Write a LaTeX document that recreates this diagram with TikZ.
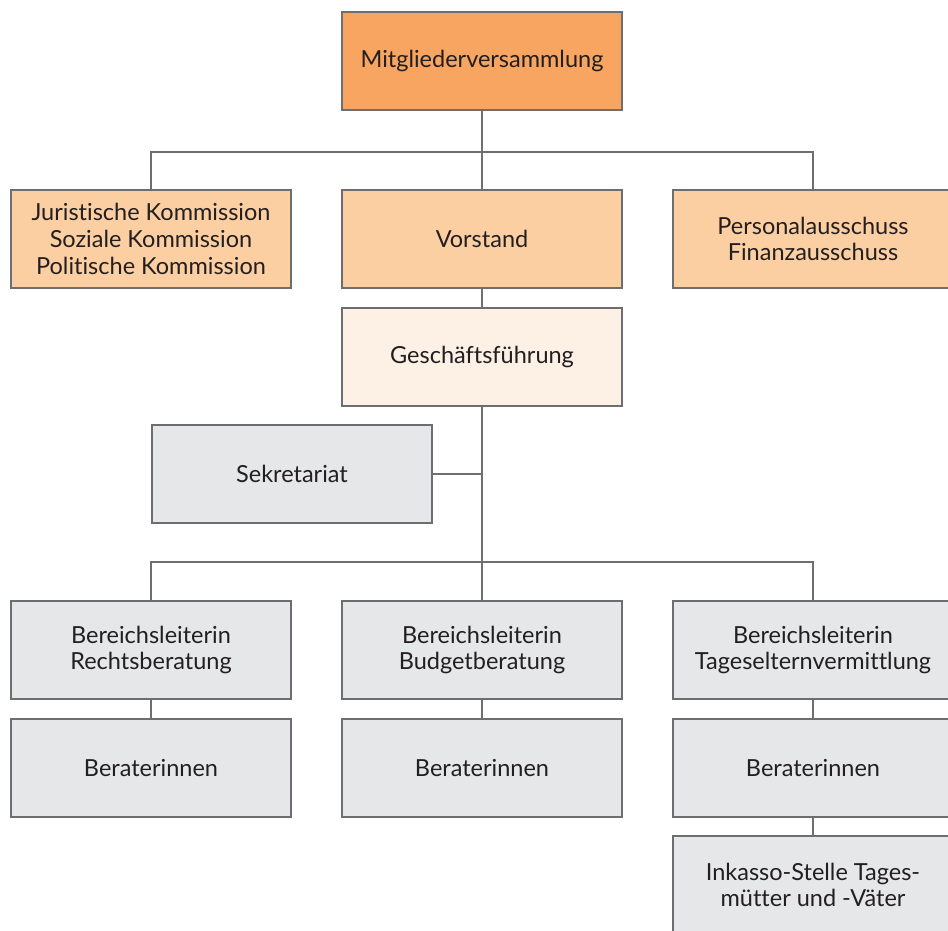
\documentclass[tikz,border=0pt]{standalone}
\usepackage{fontspec}
\setmainfont[Ligatures=NoCommon]{Lato}
\usepackage{xcolor}
\definecolor{mvcolor}{HTML}{F7A560}
\definecolor{gremcolor}{HTML}{FCCFA3}
\definecolor{gfcolor}{HTML}{FDF0E4}
\definecolor{stabcolor}{HTML}{E6E7E8}
\definecolor{linecolor}{HTML}{6D6E71}
\definecolor{textcolor}{HTML}{231F20}
\usepackage{tikz}
\usetikzlibrary{positioning, calc}

\tikzset{
  orgbox/.style={draw=linecolor, line width=1.3pt, minimum width=280pt, minimum height=98pt,
    inner sep=0pt, align=center, text=textcolor, font=\fontsize{23.5}{26.8}\selectfont},
  link/.style={draw=linecolor, line width=1.3pt}
}

\begin{document}
\begin{tikzpicture}[x=1pt, y=-1pt]
  \useasboundingbox (0,0) rectangle (948,931);
  \clip (0,0) rectangle (948,931);
  \node[orgbox, fill=mvcolor] (mv) at (482,61) {Mitgliederversammlung};
  \node[orgbox, fill=gremcolor] (komm) at (151,239) {Juristische Kommission\\Soziale Kommission\\Politische Kommission};
  \node[orgbox, fill=gremcolor] (vorstand) at (482,239) {Vorstand};
  \node[orgbox, fill=gremcolor] (aussch) at (813,239) {Personalausschuss\\Finanzausschuss};
  \node[orgbox, fill=gfcolor] (gf) at (482,357) {Geschäftsführung};
  \node[orgbox, fill=stabcolor] (sek) at (292,474) {Sekretariat};
  \foreach \i/\x/\bereich in {1/151/Rechtsberatung, 2/482/Budgetberatung, 3/813/Tageselternvermittlung} {
    \node[orgbox, fill=stabcolor] (bl\i) at (\x,650) {Bereichsleiterin\\\bereich};
    \node[orgbox, fill=stabcolor] (ber\i) at (\x,768) {Beraterinnen};
    \draw[link] (bl\i.south) -- (ber\i.north);
  }
  \node[orgbox, fill=stabcolor] (inkasso) at (813,885) {Inkasso-Stelle Tages-\\mütter und -Väter};
  \coordinate (bus1) at (482,152);
  \coordinate (bus2) at (482,562);
  \draw[link] (mv.south) -- (vorstand.north);
  \draw[link] (komm.north) |- (bus1) -| (aussch.north);
  \draw[link] (vorstand.south) -- (gf.north);
  \draw[link] (gf.south) -- (bl2.north);
  \draw[link] (sek.east) -- (sek.east -| gf.south);
  \draw[link] (bl1.north) |- (bus2) -| (bl3.north);
  \draw[link] (ber3.south) -- (inkasso.north);
\end{tikzpicture}
\end{document}
